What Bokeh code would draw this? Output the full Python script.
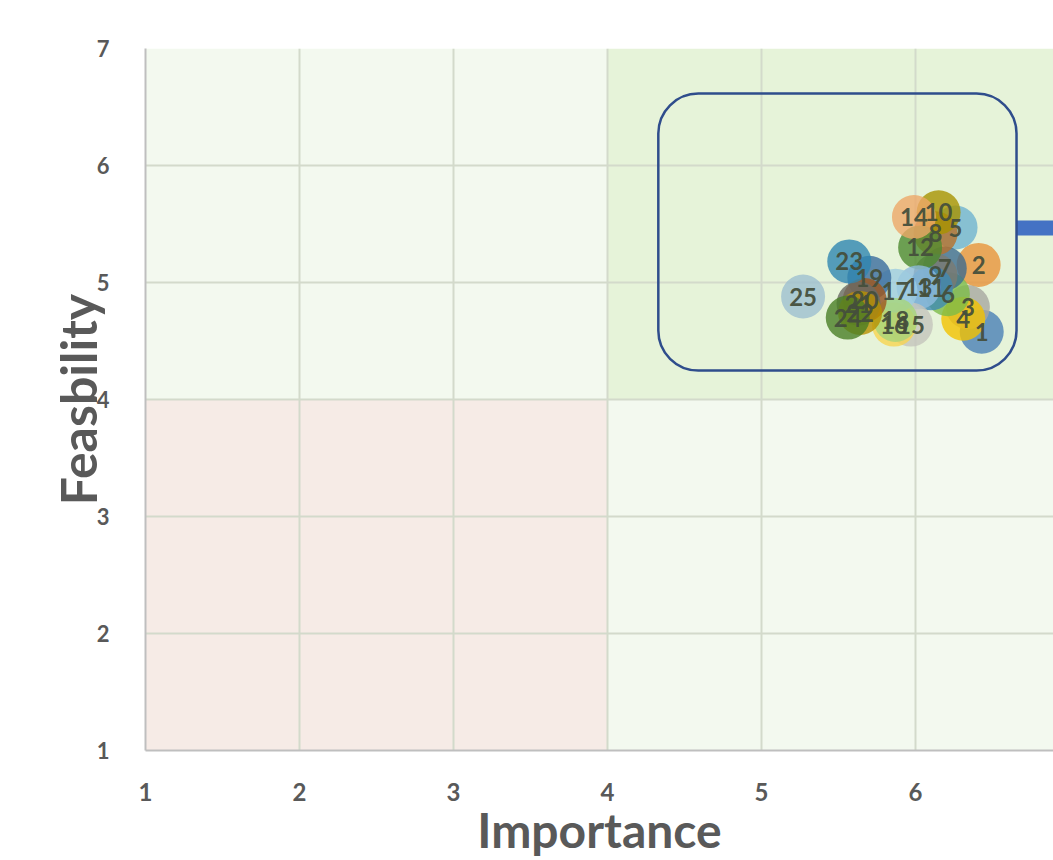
from bokeh.plotting import figure
from bokeh.models import Range1d, FixedTicker, BoxAnnotation, ColumnDataSource
from bokeh.core.properties import value
from bokeh.embed import file_html
from bokeh.resources import INLINE

# ---- data ----
labels = [str(i) for i in range(1, 26)]
importance = [6.43, 6.41, 6.34, 6.31, 6.26, 6.21, 6.19, 6.13, 6.13, 6.15,
              6.10, 6.03, 6.02, 5.99, 5.97, 5.86, 5.87, 5.87, 5.70, 5.67,
              5.63, 5.64, 5.57, 5.56, 5.27]
feasibility = [4.58, 5.15, 4.79, 4.69, 5.47, 4.90, 5.12, 5.42, 5.06, 5.60,
               4.95, 5.30, 4.96, 5.56, 4.64, 4.64, 4.93, 4.68, 5.04, 4.85,
               4.82, 4.74, 5.18, 4.70, 4.88]
colors = ["#4A7FB5", "#E8943A", "#A8A8A0", "#F2C200", "#6FB3CF", "#7DBB48",
          "#3D6B8F", "#B8702A", "#7A7A72", "#A89200", "#3F8AB3", "#4E8A30",
          "#8EBBDD", "#EDA868", "#C4C4BC", "#F7D550", "#9DCCE0", "#A6D47A",
          "#3A6B9E", "#A0561C", "#6A6A64", "#B89000", "#2F86B0", "#4A7E25",
          "#9DBFD0"]
x_ticks = [1, 2, 3, 4, 5, 6, 7]
y_ticks = [1, 2, 3, 4, 5, 6, 7]
scale_min, scale_max, midpoint = 1, 7, 4
highlight = dict(left=4.33, right=6.656, top=6.615, bottom=4.248)
arrow_y = 5.466

# ---- layout ----
W, H = 1053, 860
ML, MT, MR = 145, 48, 0
frame_w = W - ML - MR
x_end = scale_min + frame_w / 154.0

p = figure(width=W, height=H, output_backend="svg", toolbar_location=None,
           x_range=Range1d(scale_min, x_end), y_range=Range1d(scale_min, scale_max),
           min_border_left=ML, min_border_top=MT, min_border_right=MR,
           min_border_bottom=0)
p.outline_line_color = None
p.background_fill_color = "white"
p.border_fill_color = "white"

# quadrants
quad_cols = [("#F3F9EF", scale_min, midpoint, midpoint, scale_max),
             ("#E6F3D9", midpoint, scale_max, midpoint, scale_max),
             ("#F6EBE6", scale_min, midpoint, scale_min, midpoint),
             ("#F3F9EF", midpoint, scale_max, scale_min, midpoint)]
for c, l, r, b, t in quad_cols:
    p.add_layout(BoxAnnotation(left=l, right=r, bottom=b, top=t, fill_color=c,
                               fill_alpha=1, line_color=None, level="image"))

for ax in (p.xaxis[0], p.yaxis[0]):
    ax.axis_line_color = "#BFBFBF"
    ax.axis_line_width = 2
    ax.major_tick_line_color = None
    ax.minor_tick_line_color = None
    ax.major_label_text_color = "#595959"
    ax.major_label_text_font = "Lato"
    ax.axis_label_text_color = "#595959"
    ax.axis_label_text_font = "Lato"
    ax.axis_label_text_font_style = "bold"
p.xaxis.ticker = FixedTicker(ticks=x_ticks)
p.yaxis.ticker = FixedTicker(ticks=y_ticks)
p.xaxis.major_label_text_font_size = "24px"
p.xaxis.major_label_text_font_style = "bold"
p.xaxis.major_label_standoff = 26
p.xaxis.axis_label = "Importance"
p.xaxis.axis_label_text_font_size = "48px"
p.xaxis.axis_label_standoff = -3
p.yaxis.major_label_text_font_size = "22px"
p.yaxis.major_label_text_font_style = "bold"
p.yaxis.major_label_standoff = 30
p.yaxis.axis_label = "Feasbility"
p.yaxis.axis_label_text_font_size = "50px"
p.yaxis.axis_label_standoff = -14

for g in (p.xgrid[0], p.ygrid[0]):
    g.grid_line_color = "#D3DACB"
    g.grid_line_width = 2
p.xgrid.ticker = FixedTicker(ticks=x_ticks)
p.ygrid.ticker = FixedTicker(ticks=y_ticks)

src = ColumnDataSource(dict(x=importance, y=feasibility, label=labels, color=colors))
p.scatter("x", "y", source=src, size=44, fill_color="color", fill_alpha=0.8,
          line_color=None)
p.text("x", "y", text="label", source=src, text_align="center",
       text_baseline="middle", text_font=value("Lato"), text_font_size="24px",
       text_font_style="bold", text_color="#454F3C", text_alpha=0.95)

p.add_layout(BoxAnnotation(**highlight, fill_alpha=0, line_color="#2F4D8C",
                           line_alpha=1, line_width=2.5, border_radius=40))
p.segment(x0=[highlight["right"]], y0=[arrow_y], x1=[x_end], y1=[arrow_y],
          line_color="#4472C4", line_width=15, line_cap="butt")

open("out.html", "w").write(file_html(p, INLINE))
